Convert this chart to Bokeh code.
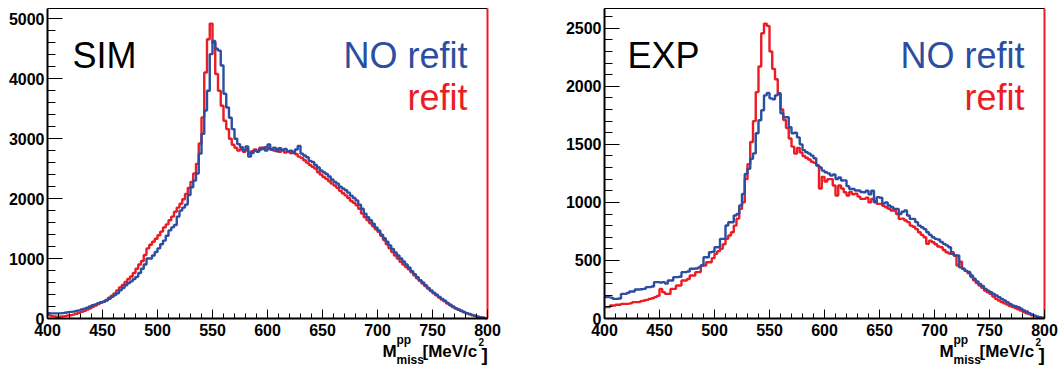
from bokeh.plotting import figure
from bokeh.models import Range1d, SingleIntervalTicker, Label
from bokeh.layouts import row
from bokeh.embed import file_html
from bokeh.resources import INLINE

# ---------------- data (bin width 2.5 MeV, 400..800) ----------------
bin_start = 400.0
bin_width = 2.5

sim_refit = [
    60, 40, 35, 30, 30, 35, 40, 50, 55, 65, 80, 95, 110, 130, 150, 170,
    195, 215, 240, 260, 280, 310, 345, 380, 420, 470, 520, 560, 610, 660, 700, 760,
    830, 900, 960, 1060, 1170, 1230, 1280, 1330, 1390, 1450, 1520, 1570, 1640, 1700, 1780, 1850,
    1915, 1990, 2080, 2180, 2280, 2420, 2580, 2920, 3355, 4105, 4660, 4920, 4600, 4080, 3800, 3550,
    3300, 3160, 3000, 2900, 2850, 2800, 2830, 2780, 2820, 2760, 2790, 2820, 2800, 2850, 2830, 2860,
    2840, 2820, 2800, 2830, 2780, 2810, 2770, 2790, 2760, 2780, 2740, 2700, 2680, 2640, 2600, 2560,
    2530, 2500, 2440, 2400, 2360, 2330, 2290, 2250, 2220, 2180, 2130, 2090, 2055, 2010, 1960, 1930,
    1890, 1830, 1750, 1690, 1640, 1590, 1540, 1490, 1445, 1380, 1310, 1240, 1170, 1110, 1050, 1000,
    945, 900, 860, 820, 770, 720, 670, 630, 585, 540, 500, 460, 420, 385, 350, 315,
    285, 250, 220, 190, 165, 145, 125, 105, 85, 70, 55, 42, 30, 20, 12, 6,
]
sim_norefit = [
    90, 85, 85, 85, 85, 90, 95, 105, 110, 115, 125, 135, 150, 165, 180, 200,
    220, 235, 255, 270, 280, 300, 330, 360, 390, 420, 470, 510, 555, 590, 620, 660,
    695, 760, 830, 900, 1000, 1000, 1050, 1110, 1170, 1240, 1300, 1380, 1470, 1520, 1560, 1700,
    1800, 1850, 1900, 2060, 2190, 2300, 2420, 2750, 3080, 3470, 3800, 4410, 4630, 4500, 4470, 4220,
    3750, 3520, 3350, 3160, 3000, 2910, 2860, 2800, 2870, 2700, 2760, 2800, 2780, 2820, 2850, 2800,
    2905, 2820, 2850, 2790, 2840, 2810, 2830, 2790, 2800, 2760, 2820, 2880, 2750, 2720, 2690, 2630,
    2610, 2560, 2520, 2470, 2440, 2410, 2370, 2320, 2280, 2250, 2200, 2170, 2140, 2100, 2050, 2010,
    1970, 1900, 1830, 1750, 1690, 1640, 1580, 1520, 1470, 1400, 1340, 1280, 1220, 1160, 1100, 1050,
    1000, 950, 900, 850, 790, 740, 690, 640, 600, 555, 510, 470, 430, 395, 360, 325,
    295, 260, 230, 200, 170, 150, 130, 110, 90, 75, 60, 45, 30, 20, 12, 6,
]
exp_refit = [
    98, 98, 112, 112, 118, 118, 126, 126, 126, 130, 141, 141, 141, 150, 155, 160,
    169, 175, 184, 195, 255, 227, 212, 212, 255, 255, 284, 284, 327, 327, 340, 370,
    370, 399, 399, 456, 456, 485, 485, 520, 557, 580, 600, 640, 686, 715, 743, 800,
    860, 944, 1000, 1200, 1330, 1520, 1700, 1950, 2170, 2457, 2540, 2520, 2300, 2150, 2060, 1940,
    1800, 1710, 1640, 1550, 1480, 1420, 1470, 1430, 1400, 1385, 1370, 1350, 1340, 1320, 1120, 1220,
    1180, 1200, 1200, 1145, 1060, 1145, 1120, 1088, 1060, 1090, 1070, 1075, 1050, 1030, 1030, 1040,
    1000, 1030, 1010, 987, 987, 970, 958, 945, 930, 930, 900, 858, 860, 844, 830, 800,
    790, 770, 743, 720, 700, 643, 670, 657, 640, 620, 614, 590, 571, 560, 571, 540,
    456, 490, 428, 410, 390, 360, 330, 305, 284, 265, 241, 225, 212, 190, 169, 155,
    141, 130, 120, 108, 98, 90, 80, 69, 55, 45, 38, 28, 20, 14, 9, 5,
]
exp_norefit = [
    184, 184, 180, 169, 169, 172, 212, 212, 220, 232, 232, 250, 250, 252, 255, 270,
    270, 275, 313, 313, 310, 313, 300, 327, 327, 356, 356, 360, 399, 399, 405, 428,
    428, 430, 440, 456, 528, 528, 571, 575, 614, 614, 686, 686, 801, 829, 829, 887,
    900, 973, 1073, 1245, 1289, 1375, 1422, 1595, 1707, 1793, 1922, 1943, 1896, 1888, 1922, 1939,
    1767, 1733, 1733, 1647, 1595, 1600, 1560, 1500, 1450, 1432, 1420, 1403, 1380, 1317, 1300, 1274,
    1260, 1250, 1231, 1240, 1202, 1215, 1188, 1190, 1140, 1116, 1116, 1102, 1102, 1090, 1088, 1100,
    1070, 1100, 1000, 1045, 1040, 990, 1000, 973, 960, 944, 944, 900, 920, 930, 887, 858,
    858, 830, 800, 786, 770, 743, 720, 700, 686, 680, 660, 643, 630, 614, 557, 545,
    542, 440, 428, 410, 400, 370, 342, 320, 298, 280, 255, 240, 227, 212, 198, 184,
    169, 155, 141, 126, 112, 105, 98, 84, 69, 60, 45, 35, 25, 16, 10, 5,
]

x_lo, x_hi = 400, 800
x_ticks_major = 50
panel_titles = ["SIM", "EXP"]
legend_texts = ["NO refit", "refit"]

RED = "#ec1c24"
BLUE = "#2c4ea0"
FONT = "Liberation Sans"

H = 365
TOP = 8          # pixel row of the frame top (y = ymax)
ZERO = 318       # pixel row of y = 0


def make_panel(name, refit, norefit, ymax, ymajor, width, left, right, title_x):
    assert len(refit) == 160 and len(norefit) == 160
    # the plotting area covers the whole canvas; the axes sit at x = 400 and y = 0
    xpp = (x_hi - x_lo) / (width - left - right)
    ypp = ymax / (ZERO - TOP)
    p = figure(width=width, height=H, output_backend="svg", toolbar_location=None,
               x_range=Range1d(x_lo - left * xpp, x_hi + right * xpp),
               y_range=Range1d(-(H - ZERO) * ypp, ymax + TOP * ypp),
               min_border_left=0, min_border_right=0, min_border_top=0, min_border_bottom=0)
    p.xgrid.visible = False
    p.ygrid.visible = False
    p.outline_line_color = None
    p.background_fill_color = "white"
    p.border_fill_color = "white"

    p.xaxis.ticker = SingleIntervalTicker(interval=x_ticks_major, num_minor_ticks=5)
    p.yaxis.ticker = SingleIntervalTicker(interval=ymajor, num_minor_ticks=5)
    p.xaxis.fixed_location = 0
    p.yaxis.fixed_location = x_lo
    p.xaxis.bounds = (x_lo, x_hi)
    p.yaxis.bounds = (0, ymax)
    for ax in (p.xaxis, p.yaxis):
        ax.axis_line_width = 2
        ax.axis_line_color = "black"
        ax.major_tick_out = 0
        ax.minor_tick_out = 0
        ax.major_tick_line_color = "black"
        ax.minor_tick_line_color = "black"
        ax.major_label_text_font = FONT
        ax.major_label_text_font_style = "bold"
        ax.major_label_text_font_size = "16px"
        ax.major_label_text_color = "black"
    p.xaxis.major_tick_in = 9
    p.xaxis.minor_tick_in = 5
    p.yaxis.major_tick_in = 15
    p.yaxis.minor_tick_in = 8
    p.xaxis.major_label_standoff = 5
    p.yaxis.major_label_standoff = 3

    # frame: top edge (black) and right edge (red)
    p.segment(x0=[x_lo], y0=[ymax], x1=[x_hi], y1=[ymax], line_color="black", line_width=1.2)
    p.segment(x0=[x_hi], y0=[0], x1=[x_hi], y1=[ymax], line_color=RED, line_width=2)

    edges = [bin_start + bin_width * i for i in range(len(refit) + 1)]
    p.step(edges, list(refit) + [refit[-1]], mode="after", line_color=RED, line_width=2.4)
    p.step(edges, list(norefit) + [norefit[-1]], mode="after", line_color=BLUE, line_width=2.4)

    R = width - right
    p.add_layout(Label(x=title_x, y=55, x_units="canvas", y_units="canvas", text=name,
                       text_font=FONT, text_font_size="36px", text_color="black",
                       text_baseline="alphabetic"))
    p.add_layout(Label(x=R - 20, y=55, x_units="canvas", y_units="canvas", text=legend_texts[0],
                       text_font=FONT, text_font_size="36px", text_color=BLUE,
                       text_align="right", text_baseline="alphabetic"))
    p.add_layout(Label(x=R - 20, y=97, x_units="canvas", y_units="canvas", text=legend_texts[1],
                       text_font=FONT, text_font_size="36px", text_color=RED,
                       text_align="right", text_baseline="alphabetic"))
    # axis title  M^{pp}_{miss}[MeV/c^{2}]
    parts = [
        ("M", R - 105, 351, "17px"),
        ("pp", R - 91, 339, "12px"),
        ("miss", R - 91, 359, "12px"),
        ("[MeV/c", R - 65, 351, "17px"),
        ("2", R - 9, 341, "10px"),
        ("]", R - 6, 354, "19px"),
    ]
    for txt, x, yb, size in parts:
        p.add_layout(Label(x=x, y=yb, x_units="canvas", y_units="canvas", text=txt,
                           text_font=FONT, text_font_style="bold", text_font_size=size,
                           text_color="black", text_baseline="alphabetic"))
    return p


p1 = make_panel(panel_titles[0], sim_refit, sim_norefit, 5172, 1000, 530, 47, 43, 72)
p2 = make_panel(panel_titles[1], exp_refit, exp_norefit, 2670, 500, 531, 74, 17, 97)

layout = row(p1, p2)
open("out.html", "w").write(file_html(layout, INLINE))
